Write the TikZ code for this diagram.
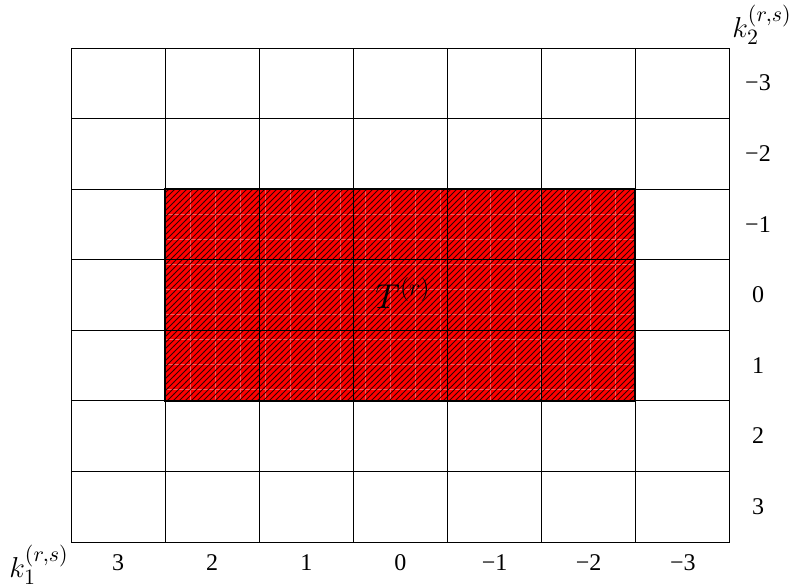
\documentclass[tikz,border=0pt]{standalone}
\usepackage{fontspec}
\setmainfont{Liberation Serif}
\usetikzlibrary{patterns}
\begin{document}
\begin{tikzpicture}[x=0.5pt,y=-0.5pt,
  gridline/.style={line width=0.5pt,draw=black},
  lightline/.style={line width=0.4pt,draw={rgb,255:red,255;green,90;blue,90}},
  lab/.style={inner sep=0pt,font=\fontsize{12}{14}\selectfont},
  klab/.style={inner sep=0pt,font=\fontsize{15}{18}\selectfont}]
\useasboundingbox (0,0) rectangle (798,586);
% red region
\fill[red] (165,189) rectangle (635,401);
\begin{scope}
\clip (165,189) rectangle (635,401);
\foreach \i in {1,...,18} {\draw[lightline] (165+25*\i,189) -- (165+25*\i,401);}
\foreach \j in {1,...,8} {\draw[lightline] (165,189+25*\j) -- (635,189+25*\j);}
\fill[pattern=north east lines,pattern color=black!80!red] (165,189) rectangle (635,401);
\end{scope}
% grid
\foreach \c in {0,...,7} {\draw[gridline] (71+94.14*\c,48) -- (71+94.14*\c,542);}
\foreach \r in {0,...,7} {\draw[gridline] (71,48+70.57*\r) -- (730,48+70.57*\r);}
\draw[line width=0.8pt] (165,189) rectangle (635,401);
\node[lab,font=\fontsize{17}{20}\selectfont] (T) at (403,293) {$T^{(r)}$};
% bottom labels
\foreach \v [count=\i from 0] in {3,2,1,0,−1,−2,−3}
  {\node[lab] (b\i) at (118+94.14*\i,563) {\v};}
% right labels
\foreach \v [count=\i from 0] in {−3,−2,−1,0,1,2,3}
  {\node[lab] (r\i) at (758,83+70.57*\i) {\v};}
\node[klab] (k1) at (39,565) {$k_1^{(r,s)}$};
\node[klab] (k2) at (762,25) {$k_2^{(r,s)}$};
\end{tikzpicture}
\end{document}
